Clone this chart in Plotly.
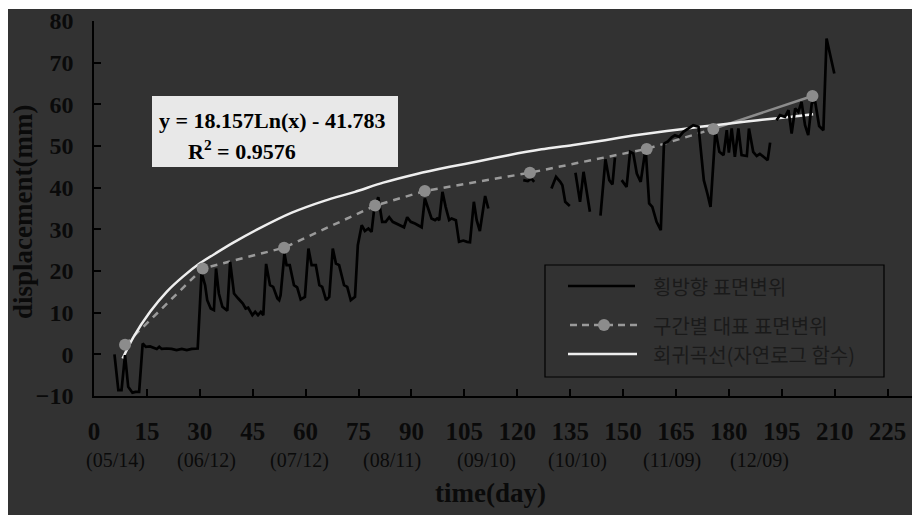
import plotly.graph_objects as go

# ---------------- data ----------------
# lateral surface displacement (None = gap in record)
disp_day = [5.8, 6.9, 7.8, 8.8, 9.7, 10.9, 11.8, 12.8, 13.8, 14.7, 15.9, 16.8, 17.8, 18.5, 19.2,
            20.6, 22.0, 23.4, 24.9, 26.3, 27.7, 29.4, 30.5, 31.5, 32.1, 33.1, 34.0, 34.6, 35.4,
            36.4, 37.8, 38.6, 39.7, 40.9, 42.2, 43.0, 43.7, 44.9, 45.7, 46.5, 47.3, 48.0, 48.8,
            49.9, 50.8, 52.0, 52.5, 52.9, 54.0, 54.6, 55.5, 56.7, 57.6, 58.6, 59.8, 60.8, 61.7,
            62.9, 63.9, 64.7, 65.8, 66.7, 67.7, 68.6, 69.5, 70.9, 71.8, 72.8, 74.0, 74.8, 75.9,
            76.8, 77.8, 78.7, 79.4, 80.6, 81.7, 82.7, 83.7, 84.7, 85.8, 86.8, 87.9, 88.8, 89.8,
            91.0, 92.0, 92.9, 93.8, 94.8, 95.7, 96.7, 97.3, 97.9, 98.8, 99.7, 100.7, 101.4, 102.6,
            103.5, 104.7, 105.8, 106.6, 107.7, 108.5, 109.4, 110.9, 111.8,
            None,
            121.7, 123.0, 124.0, 124.8,
            None,
            129.7, 131.0, 132.2, 132.8, 133.6, 134.9,
            None,
            136.5, 137.8, 138.8, 139.6, 140.6,
            None,
            143.6, 145.0, 146.1, 147.0, 147.7,
            None,
            149.6, 151.0, 152.0, 152.9, 153.9, 155.0, 156.4, 157.4, 158.3, 159.5, 160.7, 161.6,
            162.6, 163.8, 164.7, 165.9, 167.1, 168.5, 169.9, 171.4, 172.0, 172.9, 173.9, 174.8,
            176.2, 177.3, 178.5, 179.4, 180.0, 180.8, 181.7, 182.7, 183.6, 185.1, 185.7, 186.9,
            187.9, 188.8, 190.0, 191.0, 191.7,
            None,
            193.5, 194.5, 195.9, 196.9, 197.8, 198.8, 199.7, 200.6, 201.6, 202.5, 203.5, 204.4,
            205.6, 206.8, 207.7, 209.9]
disp_val = [0.0, -8.6, -8.6, -0.2, -7.8, -9.2, -9.0, -9.0, 2.6, 1.8, 1.9, 1.6, 1.3, 1.8, 1.3,
            1.4, 1.3, 1.0, 1.3, 1.0, 1.3, 1.4, 19.6, 16.6, 13.0, 11.0, 10.6, 20.6, 14.6,
            11.4, 10.5, 22.2, 14.6, 13.4, 12.2, 11.0, 11.2, 9.4, 10.2, 9.4, 10.2, 9.4, 21.7,
            16.6, 16.2, 13.4, 13.0, 14.2, 24.2, 21.4, 21.4, 16.6, 16.1, 13.2, 13.8, 25.4, 21.4,
            21.4, 16.6, 16.2, 13.0, 13.8, 25.4, 21.8, 21.4, 16.6, 16.2, 13.0, 13.8, 26.2, 31.0,
            29.6, 30.2, 29.4, 34.6, 37.7, 31.8, 31.8, 32.9, 31.8, 31.3, 30.8, 30.5, 32.9, 31.8,
            31.4, 31.0, 30.5, 37.4, 34.6, 32.6, 32.2, 32.6, 32.2, 39.0, 35.4, 32.2, 32.6, 32.2,
            27.0, 27.3, 27.0, 26.9, 36.6, 32.2, 29.6, 38.0, 35.0,
            None,
            41.8, 41.6, 42.2, 41.4,
            None,
            39.8, 42.6, 41.4, 40.6, 36.6, 35.6,
            None,
            43.6, 36.6, 43.8, 39.0, 34.2,
            None,
            33.3, 46.8, 41.8, 40.8, 47.2,
            None,
            41.8, 40.2, 48.6, 48.2, 43.4, 41.4, 49.4, 36.2, 35.4, 31.8, 29.8, 50.6,
            51.0, 52.1, 52.6, 52.2, 53.4, 54.2, 55.0, 54.6, 49.0, 41.8, 38.6, 35.4,
            53.8, 48.6, 47.8, 53.8, 48.4, 54.2, 47.4, 54.2, 47.8, 47.6, 54.2, 48.6,
            47.6, 48.1, 47.3, 46.6, 50.8,
            None,
            56.2, 57.4, 57.0, 58.6, 53.0, 59.0, 58.2, 60.6, 55.0, 52.6, 60.2, 61.0,
            54.8, 53.8, 75.8, 67.4]

# representative displacement per interval
rep_day = [8.8, 30.8, 53.9, 79.7, 93.8, 123.6, 156.7, 175.6, 203.7]
rep_val = [2.3, 20.6, 25.6, 35.7, 39.2, 43.6, 49.3, 54.1, 62.0]

# regression curve (natural log)
fit_day = [8.1, 11.1, 15.9, 20.6, 25.3, 30.1, 34.8, 39.5, 46.6, 56.1, 65.5, 74.0, 82.0, 91.5,
           100.9, 109.4, 117.5, 126.9, 136.4, 144.9, 152.9, 162.4, 171.8, 180.3, 188.3, 197.8, 203.9]
fit_val = [-1.0, 4.0, 10.2, 15.0, 18.7, 21.9, 24.4, 26.8, 30.1, 34.0, 36.9, 39.0, 41.2, 43.3,
           45.0, 46.4, 47.8, 49.2, 50.3, 51.4, 52.5, 53.6, 54.6, 55.4, 56.2, 57.0, 57.6]

x_ticks = [0, 15, 30, 45, 60, 75, 90, 105, 120, 135, 150, 165, 180, 195, 210, 225]
y_ticks = [-10, 0, 10, 20, 30, 40, 50, 60, 70, 80]
date_labels = ["(05/14)", "(06/12)", "(07/12)", "(08/11)", "(09/10)", "(10/10)", "(11/09)", "(12/09)"]
date_label_day = [6.0, 32.0, 58.4, 84.5, 111.4, 137.0, 163.9, 188.8]

legend_names = ["횡방향 표면변위", "구간별 대표 표면변위", "회귀곡선(자연로그 함수)"]
eq_line1 = "y = 18.157Ln(x) - 41.783"
eq_line2 = "R<sup>2</sup> = 0.9576"
x_title = "time(day)"
y_title = "displacement(mm)"

# ---------------- layout constants ----------------
W, H = 912, 515
L, T, PB = 94, 21, 396          # plot left, top, bottom pixel
PR = 912
BG = "#323232"
SERIF = "Liberation Serif, Times New Roman, serif"
KR = "Noto Sans CJK KR, sans-serif"


def px2x(px):
    return (px - L) / (PR - L)


def py2y(py):
    return (PB - py) / (PB - T)


fig = go.Figure()

fig.add_trace(go.Scatter(x=rep_day[:-1], y=rep_val[:-1], mode="lines",
                         line=dict(color="#9a9a9a", width=2.5, dash="7px,6px"),
                         showlegend=False, hoverinfo="skip"))
fig.add_trace(go.Scatter(x=rep_day[-2:], y=rep_val[-2:], mode="lines",
                         line=dict(color="#8c8c8c", width=2.5),
                         showlegend=False, hoverinfo="skip"))
fig.add_trace(go.Scatter(x=fit_day, y=fit_val, mode="lines", name=legend_names[2],
                         line=dict(color="#eeeeee", width=2.5, shape="spline", smoothing=0.6),
                         showlegend=False))
fig.add_trace(go.Scatter(x=disp_day, y=disp_val, mode="lines", name=legend_names[0],
                         line=dict(color="#000000", width=2.7), connectgaps=False,
                         showlegend=False))
fig.add_trace(go.Scatter(x=rep_day, y=rep_val, mode="markers", name=legend_names[1],
                         marker=dict(color="#8c8c8c", size=12),
                         showlegend=False))

shapes = []
# dark background with white top/left border
shapes.append(dict(type="rect", xref="paper", yref="paper", layer="below",
                   x0=px2x(8), x1=px2x(W + 5), y0=py2y(H + 5), y1=py2y(9),
                   fillcolor=BG, line=dict(width=0)))
# equation box
shapes.append(dict(type="rect", xref="paper", yref="paper",
                   x0=px2x(152), x1=px2x(398), y0=py2y(167), y1=py2y(96),
                   fillcolor="#e8e8e8", line=dict(width=0)))
# legend box
shapes.append(dict(type="rect", xref="paper", yref="paper",
                   x0=px2x(545), x1=px2x(884), y0=py2y(377), y1=py2y(265),
                   fillcolor="rgba(0,0,0,0)", line=dict(color="#000000", width=1.2)))
shapes.append(dict(type="line", xref="paper", yref="paper",
                   x0=px2x(568), x1=px2x(635), y0=py2y(286), y1=py2y(286),
                   line=dict(color="#000000", width=2.7)))
shapes.append(dict(type="line", xref="paper", yref="paper",
                   x0=px2x(570), x1=px2x(637), y0=py2y(325), y1=py2y(325),
                   line=dict(color="#9a9a9a", width=2.5, dash="7px,5px")))
shapes.append(dict(type="circle", xref="paper", yref="paper",
                   x0=px2x(598), x1=px2x(610), y0=py2y(331), y1=py2y(319),
                   fillcolor="#8c8c8c", line=dict(width=0)))
shapes.append(dict(type="line", xref="paper", yref="paper",
                   x0=px2x(568), x1=px2x(637), y0=py2y(354), y1=py2y(354),
                   line=dict(color="#eeeeee", width=2.5)))

annotations = []
annotations.append(dict(xref="paper", yref="paper", x=px2x(157), y=py2y(120),
                        xanchor="left", yanchor="middle", text=eq_line1, showarrow=False,
                        font=dict(family=SERIF, size=22, color="#000000", weight="bold")))
annotations.append(dict(xref="paper", yref="paper", x=px2x(186), y=py2y(150),
                        xanchor="left", yanchor="middle", text=eq_line2, showarrow=False,
                        font=dict(family=SERIF, size=22, color="#000000", weight="bold")))
for name, py in zip(legend_names, [286, 325, 354]):
    annotations.append(dict(xref="paper", yref="paper", x=px2x(651), y=py2y(py),
                            xanchor="left", yanchor="middle", text=name, showarrow=False,
                            font=dict(family=KR, size=20, color="#1a1a1a")))
for lab, d in zip(date_labels, date_label_day):
    annotations.append(dict(xref="x", yref="paper", x=d, y=py2y(460),
                            xanchor="center", yanchor="middle", text=lab, showarrow=False,
                            font=dict(family=SERIF, size=20, color="#0a0a0a")))
# axis titles
annotations.append(dict(xref="paper", yref="paper", x=px2x(490), y=py2y(493),
                        xanchor="center", yanchor="middle", text=x_title, showarrow=False,
                        font=dict(family=SERIF, size=27, color="#0a0a0a", weight="bold")))
annotations.append(dict(xref="paper", yref="paper", x=px2x(23), y=py2y(212),
                        xanchor="center", yanchor="middle", text=y_title, showarrow=False,
                        textangle=-90,
                        font=dict(family=SERIF, size=27, color="#0a0a0a", weight="bold")))

fig.update_layout(
    width=W, height=H,
    margin=dict(l=L, r=W - PR, t=T, b=H - PB, pad=0),
    paper_bgcolor="#ffffff",
    plot_bgcolor="rgba(0,0,0,0)",
    showlegend=False,
    shapes=shapes,
    annotations=annotations,
    xaxis=dict(range=[0, (PR - L) / 3.527], tickvals=x_ticks, ticktext=[str(v) for v in x_ticks],
               showgrid=False, zeroline=False, showline=True, linecolor="#000000", linewidth=1.5,
               ticks="inside", ticklen=7, tickwidth=1.5, tickcolor="#000000",
               ticklabelstandoff=12,
               tickfont=dict(family=SERIF, size=25, color="#0a0a0a", weight="bold")),
    yaxis=dict(range=[-10, 80], tickvals=y_ticks,
               showgrid=False, zeroline=False, showline=True, linecolor="#000000", linewidth=1.5,
               ticks="inside", ticklen=7, tickwidth=1.5, tickcolor="#000000",
               ticklabelstandoff=14,
               tickfont=dict(family=SERIF, size=24, color="#0a0a0a", weight="bold")),
)

fig.write_html("out.html")
